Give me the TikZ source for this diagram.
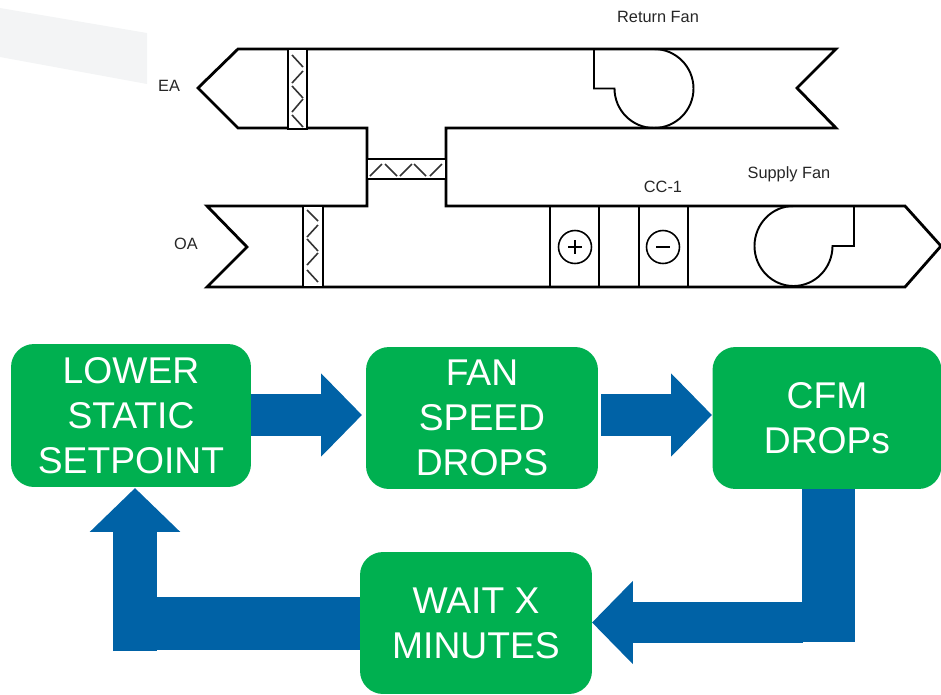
\documentclass[tikz,border=0pt]{standalone}
\usepackage{fontspec}
\setmainfont{Liberation Sans}
\usepackage{tikz}
\usetikzlibrary{arrows.meta, positioning, shapes, calc}
\definecolor{BoxGreen}{RGB}{0, 176, 80}
\definecolor{FlowBlue}{RGB}{0, 98, 166}
\definecolor{MarkGray}{RGB}{243, 244, 245}
\definecolor{LabelGray}{RGB}{38, 38, 38}
\tikzset{every path/.style={line join=miter}}

\begin{document}
\begin{tikzpicture}[
    x=0.02cm,
    y=-0.02cm,
    duct/.style={
        draw=black,
        line width=1.6pt
    },
    part/.style={
        draw=black,
        line width=1.1pt
    },
    vane/.style={
        draw=black!80,
        line width=0.9pt
    },
    label/.style={
        font=\fontsize{9.3}{11}\selectfont,
        text=LabelGray,
        inner sep=0pt
    },
    stepbox/.style={
        fill=BoxGreen,
        rounded corners=0.46cm,
        inner sep=0pt,
        minimum width=4.64cm,
        minimum height=2.84cm,
        align=center,
        text=white,
        font=\fontsize{21.2}{25.6}\selectfont
    },
    flow/.style={
        draw=FlowBlue,
        line width=0.84cm,
        -{Triangle[length=0.82cm, width=1.62cm]}
    },
    bar/.style={
        draw=FlowBlue,
        line cap=butt
    }
]
\useasboundingbox (0,0) rectangle (941,694);

% faded mark top left
\fill[MarkGray] (0,8) -- (147,33) -- (147,84) -- (0,57) -- cycle;

% return duct and outside air duct
\draw[duct] (367,128) -- (238,128) -- (198,88) -- (238,49) -- (836,49) -- (797,88) -- (836,128) -- (446,128) -- (446,206) -- (905,206) -- (941,246) -- (905,287) -- (207,287) -- (247,247) -- (207,206) -- (367,206) -- cycle;

% dampers
\draw[part, fill=white] (288,49) rectangle (307,129);
\draw[part, fill=white] (303,206) rectangle (323,287);
\draw[part, fill=white, line width=0.8pt] (367,159) rectangle (446,179);
\draw[duct] (367,128) -- (367,159) (367,179) -- (367,206) (446,128) -- (446,159) (446,179) -- (446,206);
\foreach \ya/\yb in {55/67, 83/71, 86/98, 112/99, 115/127}
    \draw[vane] (292,\ya) -- (303,\yb);
\foreach \ya/\yb in {210/221, 237/225, 239/251, 265/253, 270/282}
    \draw[vane] (307,\ya) -- (318,\yb);
\foreach \xa/\xb in {370/382, 397/385, 400/412, 426/414, 430/442}
    \draw[vane] (\xa,176) -- (\xb,164);

% fans
\draw[part] (594,49) -- (654,49) arc[start angle=-90, end angle=180, radius=39.5] -- (594,88.5) -- cycle;
\draw[part] (854,206) -- (793.5,206) arc[start angle=-90, end angle=-360, x radius=39, y radius=40] -- (854,246) -- cycle;

% coils
\draw[part] (550,206) rectangle (599,287);
\draw[part] (639,206) rectangle (688,287);
\node[draw=black, line width=0.9pt, circle, minimum size=0.66cm, inner sep=0pt] (heat) at (575,247) {};
\node[draw=black, line width=0.9pt, circle, minimum size=0.66cm, inner sep=0pt] (cool) at (663,247) {};
\draw[line width=0.7pt] ($(heat.center)+(-7,0)$) -- ($(heat.center)+(7,0)$) ($(heat.center)+(0,-7)$) -- ($(heat.center)+(0,7)$);
\draw[line width=0.7pt] ($(cool.center)+(-7,0)$) -- ($(cool.center)+(7,0)$);

% labels
\node[label] (ea) at (169,86) {EA};
\node[label] (oa) at (186,244) {OA};
\node[label] (returnfan) at (658,17) {Return Fan};
\node[label] (supplyfan) at (789,174) {Supply Fan};
\node[label] (cc) at (663,187) {CC-1};

% steps
\node[stepbox, minimum width=4.8cm, minimum height=2.86cm] (lower) at (131,415.5) {LOWER\\STATIC\\SETPOINT};
\node[stepbox] (fan) at (482,418) {FAN\\SPEED\\DROPS};
\node[stepbox, minimum width=4.58cm] (cfm) at (827,418) {CFM\\DROPs};
\node[stepbox] (wait) at (476,623) {WAIT X\\MINUTES};

% arrows
\coordinate (topa) at (362,415);
\coordinate (topb) at (712,415);
\coordinate (startb) at (601,415);
\coordinate (turnr) at (828.5,642);
\coordinate (turnrend) at (803,622.5);
\coordinate (turnl) at (147,623.5);
\coordinate (tipl) at (135,488);
\coordinate (stemr) at (135,651);
\coordinate (tipr) at (592,622.5);
\draw[flow] (lower.east |- topa) -- (topa);
\draw[flow] (startb) -- (topb);
\draw[bar, line width=1.06cm] (cfm.south -| turnr) -- (turnr);
\draw[flow, line width=0.82cm] (turnrend) -- (tipr);
\draw[bar, line width=1.06cm] (wait.west |- turnl) -- (turnl);
\draw[flow, line width=0.9cm, -{Triangle[length=0.88cm, width=1.76cm]}] (stemr) -- (tipl);
\end{tikzpicture}
\end{document}
